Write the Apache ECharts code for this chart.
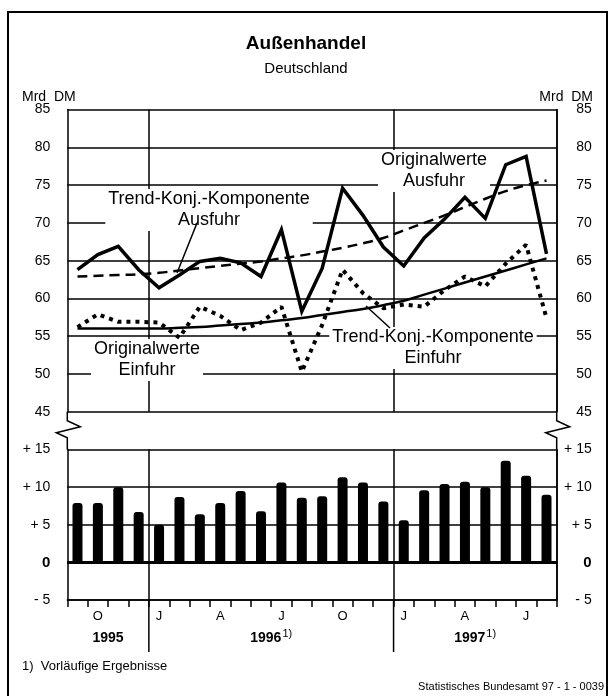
<!DOCTYPE html>
<html>
<head>
<meta charset="utf-8">
<style>
  html, body { margin: 0; padding: 0; background: #fff; }
  #chart { width: 613px; height: 696px; }
</style>
<script src="https://cdn.jsdelivr.net/npm/echarts@6/dist/echarts.min.js"></script>
</head>
<body>
<div id="chart"></div>
<script>
// Monate Sep 1995 - Aug 1997
var months = ['Sep 95', 'Okt 95', 'Nov 95', 'Dez 95',
  'Jan 96', 'Feb 96', 'Mär 96', 'Apr 96', 'Mai 96', 'Jun 96', 'Jul 96', 'Aug 96', 'Sep 96', 'Okt 96', 'Nov 96', 'Dez 96',
  'Jan 97', 'Feb 97', 'Mär 97', 'Apr 97', 'Mai 97', 'Jun 97', 'Jul 97', 'Aug 97']
var monthLabels = ['', 'O', '', '', 'J', '', '', 'A', '', '', 'J', '', '', 'O', '', '', 'J', '', '', 'A', '', '', 'J', '']
var years = ['1995', '1996', '1997']
var yearNotes = ['', '1)', '1)']
var yearFirstMonth = [0, 4, 16]
var yearLastMonth = [3, 15, 23]

// Mrd DM
var ausfuhrOriginal = [63.8, 65.8, 66.9, 63.8, 61.4, 63.1, 64.9, 65.3, 64.7, 62.9, 69.1, 58.3,
  64.0, 74.6, 71.0, 66.8, 64.3, 68.0, 70.5, 73.4, 70.6, 77.7, 78.8, 65.9]
var ausfuhrTrend = [62.9, 63.0, 63.1, 63.2, 63.4, 63.7, 64.0, 64.3, 64.6, 64.9, 65.3, 65.7,
  66.2, 66.7, 67.3, 68.0, 69.0, 70.0, 71.0, 72.1, 73.2, 74.2, 75.0, 75.6]
var einfuhrOriginal = [56.2, 57.9, 56.9, 56.9, 56.8, 54.8, 58.9, 57.7, 55.8, 56.8, 58.9, 50.3,
  56.5, 63.8, 60.7, 58.7, 59.2, 58.9, 61.1, 62.9, 61.6, 64.6, 67.1, 57.4]
var einfuhrTrend = [56.0, 56.0, 56.0, 56.0, 56.0, 56.1, 56.2, 56.4, 56.6, 56.8, 57.1, 57.4,
  57.8, 58.2, 58.6, 59.1, 59.7, 60.5, 61.3, 62.1, 62.9, 63.7, 64.5, 65.3]
var saldo = [7.9, 7.9, 10.0, 6.7, 5.0, 8.7, 6.4, 7.9, 9.5, 6.8, 10.6, 8.6,
  8.8, 11.3, 10.6, 8.1, 5.6, 9.6, 10.4, 10.7, 10.0, 13.5, 11.5, 9.0]

var FONT = '"Liberation Sans", Arial, Helvetica, sans-serif'
var black = '#000'

function yearDivider(index) {
  return index === yearFirstMonth[1] || index === yearFirstMonth[2]
}

function signed(v) {
  if (v > 0) return '+ ' + v
  if (v < 0) return '- ' + (-v)
  return '{b|0}'
}

var gridLine = { show: true, lineStyle: { color: black, width: 1.5 } }
var axisLabelBase = { color: black, fontFamily: FONT, fontSize: 14 }

var option = {
  animation: false,
  backgroundColor: '#fff',
  textStyle: { fontFamily: FONT, color: black },
  grid: [
    { left: 67.3, right: 56.3, top: 109.6, height: 302.1, outerBoundsMode: 'none' },
    { left: 67.3, right: 56.3, top: 449.5, height: 150.5, outerBoundsMode: 'none' }
  ],
  xAxis: [
    {
      type: 'category',
      gridIndex: 0,
      data: months,
      boundaryGap: true,
      axisLine: { show: false },
      axisTick: { show: false },
      axisLabel: { show: false },
      splitLine: { show: true, interval: yearDivider, lineStyle: { color: black, width: 1.5 } }
    },
    {
      type: 'category',
      gridIndex: 1,
      data: months,
      boundaryGap: true,
      position: 'bottom',
      axisLine: { show: true, onZero: false, lineStyle: { color: black, width: 1.5 } },
      axisTick: { show: true, interval: 0, length: 7, lineStyle: { color: black, width: 1.5 } },
      axisLabel: Object.assign({}, axisLabelBase, {
        interval: 0,
        fontSize: 13,
        margin: 10,
        formatter: function (v, i) { return monthLabels[i] }
      }),
      splitLine: { show: true, interval: yearDivider, lineStyle: { color: black, width: 1.5 } }
    }
  ],
  yAxis: [
    {
      type: 'value', gridIndex: 0, position: 'left', min: 45, max: 85, interval: 5,
      axisLine: { show: true, lineStyle: { color: black, width: 1.5 } },
      axisTick: { show: false },
      axisLabel: Object.assign({}, axisLabelBase, { margin: 17 }),
      splitLine: gridLine
    },
    {
      type: 'value', gridIndex: 0, position: 'right', min: 45, max: 85, interval: 5,
      axisLine: { show: true, lineStyle: { color: black, width: 1.5 } },
      axisTick: { show: false },
      axisLabel: Object.assign({}, axisLabelBase, { margin: 35, align: 'right' }),
      splitLine: { show: false }
    },
    {
      type: 'value', gridIndex: 1, position: 'left', min: -5, max: 15, interval: 5,
      axisLine: { show: true, lineStyle: { color: black, width: 1.5 } },
      axisTick: { show: false },
      axisLabel: Object.assign({}, axisLabelBase, {
        margin: 17, formatter: signed,
        rich: { b: { fontWeight: 'bold', fontSize: 15, fontFamily: FONT, color: black } }
      }),
      splitLine: gridLine
    },
    {
      type: 'value', gridIndex: 1, position: 'right', min: -5, max: 15, interval: 5,
      axisLine: { show: true, lineStyle: { color: black, width: 1.5 } },
      axisTick: { show: false },
      axisLabel: Object.assign({}, axisLabelBase, {
        margin: 35, align: 'right', formatter: signed,
        rich: { b: { fontWeight: 'bold', fontSize: 15, fontFamily: FONT, color: black } }
      }),
      splitLine: { show: false }
    }
  ],
  series: [
    {
      name: 'Trend-Konj.-Komponente Einfuhr',
      type: 'line', xAxisIndex: 0, yAxisIndex: 0,
      smooth: true, symbol: 'none', z: 3,
      lineStyle: { color: black, width: 2.5 },
      data: einfuhrTrend
    },
    {
      name: 'Trend-Konj.-Komponente Ausfuhr',
      type: 'line', xAxisIndex: 0, yAxisIndex: 0,
      smooth: true, symbol: 'none', z: 3,
      lineStyle: { color: black, width: 2.5, type: [10, 6] },
      data: ausfuhrTrend
    },
    {
      name: 'Originalwerte Einfuhr',
      type: 'line', xAxisIndex: 0, yAxisIndex: 0,
      symbol: 'none', z: 4,
      lineStyle: { color: black, width: 4, type: [4, 5], cap: 'butt' },
      data: einfuhrOriginal
    },
    {
      name: 'Originalwerte Ausfuhr',
      type: 'line', xAxisIndex: 0, yAxisIndex: 0,
      symbol: 'none', z: 5,
      lineStyle: { color: black, width: 3.5, join: 'miter' },
      data: ausfuhrOriginal
    },
    {
      name: 'Saldo',
      type: 'bar', xAxisIndex: 1, yAxisIndex: 2,
      barWidth: 10,
      itemStyle: { color: black, borderRadius: [3, 3, 0, 0] },
      markLine: {
        silent: true,
        symbol: ['none', 'none'],
        label: { show: false },
        lineStyle: { color: black, width: 3, type: 'solid' },
        data: [{ yAxis: 0 }]
      },
      data: saldo
    }
  ]
}

var chart = echarts.init(document.getElementById('chart'), null, { renderer: 'canvas' })
chart.setOption(option)

// Hilfselemente, die aus den Achsen berechnet werden
function toPx(gridIndex, idx, val) {
  return chart.convertToPixel({ gridIndex: gridIndex }, [idx, val])
}
var band = toPx(1, 1, 0)[0] - toPx(1, 0, 0)[0]
var xLeft = toPx(1, 0, 0)[0] - band / 2
var xRight = toPx(1, months.length - 1, 0)[0] + band / 2
var yAxisBottom = toPx(1, 0, -5)[1]
var yTop45 = toPx(0, 0, 45)[1]
var yLow15 = toPx(1, 0, 15)[1]

function zigzag(x) {
  return {
    type: 'polyline',
    z: 10,
    shape: {
      points: [[x, yTop45], [x, yTop45 + 9], [x + 13, yTop45 + 15], [x - 11, yTop45 + 21], [x, yTop45 + 26], [x, yLow15]]
    },
    style: { stroke: black, lineWidth: 1.5, fill: null }
  }
}

function note(x, y, text) {
  return {
    type: 'text', z: 1, x: x, y: y,
    style: {
      text: text, fill: black, font: '18px ' + FONT, align: 'center', verticalAlign: 'top',
      lineHeight: 21, backgroundColor: '#fff', padding: [0, 3]
    }
  }
}

function line(x1, y1, x2, y2, w) {
  return { type: 'line', z: 10, shape: { x1: x1, y1: y1, x2: x2, y2: y2 }, style: { stroke: black, lineWidth: w || 1.5 } }
}

var graphics = [
  { type: 'rect', z: 10, shape: { x: 8, y: 12, width: 599, height: 720 }, style: { stroke: black, lineWidth: 2, fill: null } },
  { type: 'text', z: 10, x: 306, y: 44, style: { text: 'Außenhandel', font: 'bold 19px ' + FONT, fill: black, align: 'center', verticalAlign: 'middle' } },
  { type: 'text', z: 10, x: 306, y: 69, style: { text: 'Deutschland', font: '15px ' + FONT, fill: black, align: 'center', verticalAlign: 'middle' } },
  { type: 'text', z: 10, x: 22, y: 97, style: { text: 'Mrd  DM', font: '14px ' + FONT, fill: black, align: 'left', verticalAlign: 'middle' } },
  { type: 'text', z: 10, x: 593, y: 97, style: { text: 'Mrd  DM', font: '14px ' + FONT, fill: black, align: 'right', verticalAlign: 'middle' } },
  note(209, 189, 'Trend-Konj.-Komponente\nAusfuhr'),
  note(434, 150, 'Originalwerte\nAusfuhr'),
  note(433, 327, 'Trend-Konj.-Komponente\nEinfuhr'),
  note(147, 339, 'Originalwerte\nEinfuhr'),
  line(197, 223, 177, 273),
  line(366, 306, 390, 328),
  zigzag(xLeft),
  zigzag(xRight),
  { type: 'text', z: 10, x: 22, y: 666, style: { text: '1)  Vorläufige Ergebnisse', font: '13px ' + FONT, fill: black, align: 'left', verticalAlign: 'middle' } },
  { type: 'text', z: 10, x: 604, y: 687, style: { text: 'Statistisches Bundesamt 97 - 1 - 0039', font: '11px ' + FONT, fill: black, align: 'right', verticalAlign: 'middle' } }
]

// Jahrestrenner unterhalb der Achse und Jahreszahlen
for (var k = 0; k < years.length; k++) {
  var x0 = toPx(1, yearFirstMonth[k], 0)[0] - band / 2
  var x1 = toPx(1, yearLastMonth[k], 0)[0] + band / 2
  if (k > 0) graphics.push(line(x0, yAxisBottom, x0, yAxisBottom + 52))
  graphics.push({
    type: 'text', z: 10, x: (x0 + x1) / 2, y: yAxisBottom + 38,
    style: {
      text: '{y|' + years[k] + '}' + (yearNotes[k] ? '{s|' + yearNotes[k] + '}' : ''),
      align: 'center', verticalAlign: 'middle',
      rich: {
        y: { font: 'bold 14px ' + FONT, fill: black, lineHeight: 20 },
        s: { font: '11px ' + FONT, fill: black, lineHeight: 20, padding: [0, 0, 9, 1] }
      }
    }
  })
}

chart.setOption({ graphic: { elements: graphics } })
</script>
</body>
</html>
